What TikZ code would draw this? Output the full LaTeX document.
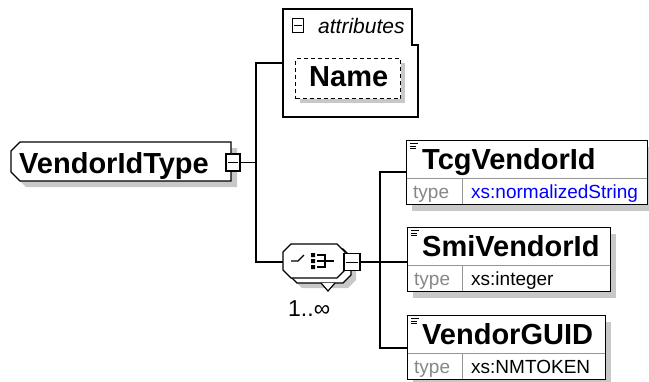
\documentclass[tikz,border=0pt]{standalone}
\usepackage{fontspec}
\setmainfont{Liberation Sans}
\definecolor{shade}{RGB}{200,200,200}
\definecolor{rulegray}{RGB}{150,150,150}
\definecolor{labelgray}{RGB}{135,135,135}
\definecolor{typeblue}{RGB}{0,0,255}
\tikzset{
  edge/.style={line width=1.3pt, draw=black},
  frame/.style={line width=1.3pt, draw=black, fill=white},
  innerrule/.style={line width=1pt, draw=rulegray},
  shadowfill/.style={fill=shade},
  elname/.style={font=\fontsize{29}{32}\selectfont\bfseries, inner sep=0pt, anchor=base west},
  smalltext/.style={font=\fontsize{19}{22}\selectfont, inner sep=0pt, anchor=base west},
  toggle/.style={draw=black, fill=white, line width=1.1pt, inner sep=0pt},
  minusbar/.style={line width=1pt, draw=black},
}
% element box with a name row and a type row
\newcommand\xsdchild[6]{%
  \fill[shadowfill] (#2+6,#3+7) rectangle (#4+6,#3+71);
  \fill[white] (#2,#3) rectangle (#4,#3+64);
  \draw[innerrule] (#2,#3+38) -- (#4,#3+38);
  \draw[innerrule] (462,#3+38) -- (462,#3+64);
  \node[draw=black, line width=1.3pt, inner sep=0pt, anchor=north west,
        minimum width=#4-#2, minimum height=64] (#1) at (#2,#3) {};
  \draw[line width=0.9pt] (#2+4,#3+3.5) -- ++(8,0)
                          (#2+4,#3+6) -- ++(6,0)
                          (#2+4,#3+8.5) -- ++(6,0);
  \node[elname] (#1name) at (422,#3+29) {#5};
  \node[smalltext, text=labelgray] (#1key) at (#2+7,#3+58) {type};
  \node[smalltext] (#1val) at (471,#3+58) {#6};
}
\begin{document}
\begin{tikzpicture}[x=1pt,y=-1pt]
\useasboundingbox (0,0) rectangle (649,381);

% junction points of the connectors
\coordinate (busA) at (256,63);
\coordinate (busB) at (256,262);
\coordinate (groupIn) at (283,63);
\coordinate (seqIn) at (283,262);
\coordinate (busTop) at (380,172);
\coordinate (busMid) at (380,262);
\coordinate (busBot) at (380,348);
\coordinate (tcgIn) at (406,172);
\coordinate (smiIn) at (407,262);
\coordinate (guidIn) at (407,348);

% connectors
\draw[edge] (groupIn) -- (busA) -- (busB) -- (seqIn);
\draw[edge] (tcgIn) -- (busTop) -- (busBot) -- (guidIn);
\draw[edge] (busMid) -- (smiIn);

% complex type
\fill[shadowfill] (26,148) -- (237,148) -- (237,187) -- (26,187) -- (17,178) -- (17,157) -- cycle;
\draw[frame] (20,142) -- (231,142) -- (231,181) -- (20,181) -- (11,172) -- (11,151) -- cycle;
\node[elname] (typename) at (19,173) {VendorIdType};
\node[toggle, minimum width=14pt, minimum height=17pt] (typetoggle) at (233,162.5) {};
\draw[minusbar] ([xshift=3pt]typetoggle.west) -- ([xshift=-3pt]typetoggle.east);
\draw[edge] (typetoggle.east) -- (typetoggle.east -| busA);

% attribute group
\draw[frame] (283,9) -- (412,9) -- (412,45) -- (418,45) -- (418,117) -- (283,117) -- cycle;
\node[toggle, minimum width=11pt, minimum height=14pt] (attrtoggle) at (298,25.5) {};
\draw[minusbar] ([xshift=2pt]attrtoggle.west) -- ([xshift=-2pt]attrtoggle.east);
\node[font=\fontsize{21}{24}\selectfont\itshape, inner sep=0pt, anchor=base west] (attrlabel) at (318,33) {attributes};
\fill[shadowfill] (300,63) rectangle (405,103);
\node[draw=black, dashed, dash pattern=on 4pt off 3pt, fill=white, line width=1.3pt, inner sep=0pt,
      anchor=north west, minimum width=105pt, minimum height=40pt] (attrbox) at (295,58) {};
\node[elname] (attrname) at (309,86) {Name};

% sequence compositor, repeated
\fill[shadowfill] (302,254) -- (348,254) -- (356,262) -- (356,280) -- (348,288) -- (302,288) -- (294,280) -- (294,262) -- cycle;
\draw[frame, line width=1.2pt] (297,249) -- (343,249) -- (351,257) -- (351,275) -- (343,283) -- (297,283) -- (289,275) -- (289,257) -- cycle;
\draw[line width=1.2pt, fill=white] (321,283) -- (328,291) -- (335,283);
\draw[frame, line width=1.2pt] (291,244) -- (337,244) -- (345,252) -- (345,270) -- (337,278) -- (291,278) -- (283,270) -- (283,252) -- cycle;
\draw[line width=1.2pt] (291,261) -- (298,261) -- (304,255);
\fill (311,253) rectangle (315,257) (311,259) rectangle (315,263) (311,265) rectangle (315,269);
\draw[line width=1.2pt] (317,255) -- (325,255) -- (325,267) -- (317,267);
\draw[line width=1.2pt] (317,261) -- (334,261);
\node[toggle, minimum width=16pt, minimum height=17pt] (seqtoggle) at (352,262) {};
\draw[minusbar] ([xshift=3pt]seqtoggle.west) -- ([xshift=-3pt]seqtoggle.east);
\draw[edge] (seqtoggle.east) -- (busMid);
\node[font=\fontsize{23}{26}\selectfont, inner sep=0pt, anchor=base west] (occurs) at (288,316) {1..∞};

% child elements
\xsdchild{tcg}{406}{140}{647}{TcgVendorId}{\textcolor{typeblue}{xs:normalizedString}}
\xsdchild{smi}{407}{227}{610}{SmiVendorId}{xs:integer}
\xsdchild{guid}{407}{315}{605}{VendorGUID}{xs:NMTOKEN}
\end{tikzpicture}
\end{document}
